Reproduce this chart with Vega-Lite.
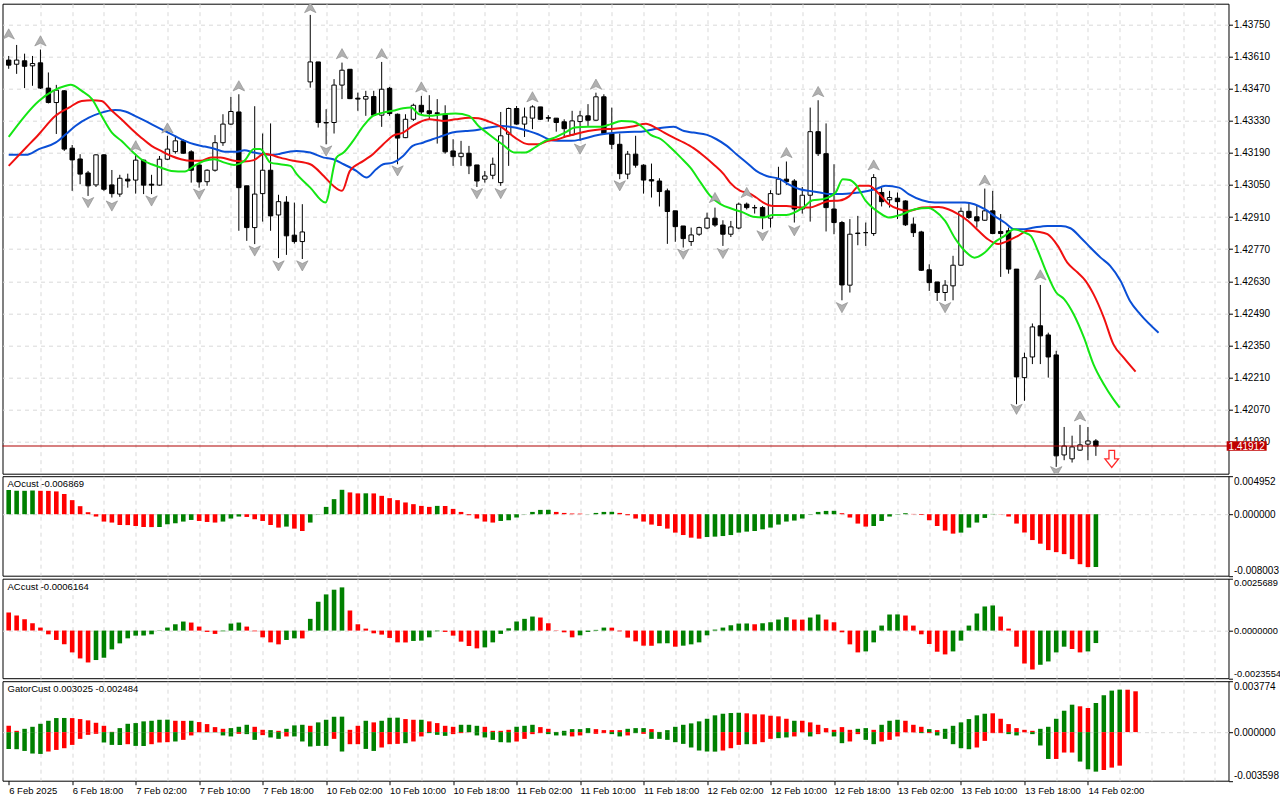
{
"$schema": "https://vega.github.io/schema/vega-lite/v6.json",
"background": "white",
"padding": {"left": 1.5, "top": 2.7, "right": 0, "bottom": 0},
"spacing": 2.5,
"bounds": "flush",
"config": {
 "view": {"stroke": "#000000", "strokeWidth": 1},
 "font": "Liberation Sans",
 "axis": {"labelFont": "Liberation Sans", "labelFontSize": 10, "labelColor": "#000000", "tickColor": "#000000", "title": null, "domain": false, "gridDash": [4, 4], "gridColor": "#d9d9d9", "gridWidth": 1, "labelOverlap": false}
},
"resolve": {"scale": {"x": "independent", "y": "independent", "color": "independent", "fill": "independent", "shape": "independent"}},
"datasets": {
"candles": [
{"i":0,"o":1.43594,"h":1.43612,"l":1.43556,"c":1.43572},
{"i":1,"o":1.43576,"h":1.43660,"l":1.43534,"c":1.43594},
{"i":2,"o":1.43591,"h":1.43622,"l":1.43472,"c":1.43567},
{"i":3,"o":1.43569,"h":1.43612,"l":1.43482,"c":1.43579},
{"i":4,"o":1.43582,"h":1.43640,"l":1.43468,"c":1.43472},
{"i":5,"o":1.43472,"h":1.43540,"l":1.43405,"c":1.43409},
{"i":6,"o":1.43409,"h":1.43486,"l":1.43272,"c":1.43463},
{"i":7,"o":1.43460,"h":1.43463,"l":1.43198,"c":1.43206},
{"i":8,"o":1.43210,"h":1.43224,"l":1.43024,"c":1.43159},
{"i":9,"o":1.43163,"h":1.43184,"l":1.43053,"c":1.43097},
{"i":10,"o":1.43102,"h":1.43111,"l":1.43002,"c":1.43046},
{"i":11,"o":1.43050,"h":1.43184,"l":1.43041,"c":1.43181},
{"i":12,"o":1.43181,"h":1.43184,"l":1.43024,"c":1.43031},
{"i":13,"o":1.43050,"h":1.43115,"l":1.42995,"c":1.43012},
{"i":14,"o":1.43010,"h":1.43094,"l":1.42998,"c":1.43079},
{"i":15,"o":1.43075,"h":1.43099,"l":1.43038,"c":1.43067},
{"i":16,"o":1.43071,"h":1.43186,"l":1.43012,"c":1.43158},
{"i":17,"o":1.43158,"h":1.43160,"l":1.43010,"c":1.43049},
{"i":18,"o":1.43053,"h":1.43094,"l":1.43010,"c":1.43049},
{"i":19,"o":1.43049,"h":1.43176,"l":1.43046,"c":1.43162},
{"i":20,"o":1.43162,"h":1.43264,"l":1.43158,"c":1.43206},
{"i":21,"o":1.43195,"h":1.43264,"l":1.43186,"c":1.43242},
{"i":22,"o":1.43242,"h":1.43249,"l":1.43186,"c":1.43188},
{"i":23,"o":1.43194,"h":1.43201,"l":1.43060,"c":1.43114},
{"i":24,"o":1.43137,"h":1.43140,"l":1.43038,"c":1.43063},
{"i":25,"o":1.43064,"h":1.43118,"l":1.43046,"c":1.43114},
{"i":26,"o":1.43114,"h":1.43267,"l":1.43108,"c":1.43234},
{"i":27,"o":1.43234,"h":1.43358,"l":1.43220,"c":1.43315},
{"i":28,"o":1.43315,"h":1.43434,"l":1.43312,"c":1.43370},
{"i":29,"o":1.43368,"h":1.43445,"l":1.42850,"c":1.43038},
{"i":30,"o":1.43046,"h":1.43046,"l":1.42806,"c":1.42864},
{"i":31,"o":1.42864,"h":1.43393,"l":1.42792,"c":1.43010},
{"i":32,"o":1.43012,"h":1.43274,"l":1.42890,"c":1.43114},
{"i":33,"o":1.43114,"h":1.43318,"l":1.42850,"c":1.42915},
{"i":34,"o":1.42919,"h":1.43007,"l":1.42731,"c":1.42977},
{"i":35,"o":1.42975,"h":1.43001,"l":1.42745,"c":1.42828},
{"i":36,"o":1.42831,"h":1.42973,"l":1.42794,"c":1.42803},
{"i":37,"o":1.42803,"h":1.42966,"l":1.42727,"c":1.42845},
{"i":38,"o":1.43499,"h":1.43791,"l":1.43474,"c":1.43586},
{"i":39,"o":1.43586,"h":1.43586,"l":1.43300,"c":1.43322},
{"i":40,"o":1.43322,"h":1.43380,"l":1.43227,"c":1.43320},
{"i":41,"o":1.43322,"h":1.43511,"l":1.43274,"c":1.43485},
{"i":42,"o":1.43485,"h":1.43583,"l":1.43424,"c":1.43550},
{"i":43,"o":1.43554,"h":1.43554,"l":1.43424,"c":1.43426},
{"i":44,"o":1.43428,"h":1.43452,"l":1.43373,"c":1.43424},
{"i":45,"o":1.43424,"h":1.43460,"l":1.43351,"c":1.43435},
{"i":46,"o":1.43435,"h":1.43460,"l":1.43351,"c":1.43354},
{"i":47,"o":1.43354,"h":1.43586,"l":1.43303,"c":1.43467},
{"i":48,"o":1.43471,"h":1.43477,"l":1.43351,"c":1.43361},
{"i":49,"o":1.43358,"h":1.43361,"l":1.43140,"c":1.43254},
{"i":50,"o":1.43256,"h":1.43358,"l":1.43254,"c":1.43336},
{"i":51,"o":1.43336,"h":1.43404,"l":1.43329,"c":1.43397},
{"i":52,"o":1.43397,"h":1.43438,"l":1.43358,"c":1.43368},
{"i":53,"o":1.43373,"h":1.43441,"l":1.43336,"c":1.43361},
{"i":54,"o":1.43364,"h":1.43424,"l":1.43230,"c":1.43361},
{"i":55,"o":1.43358,"h":1.43397,"l":1.43186,"c":1.43194},
{"i":56,"o":1.43198,"h":1.43249,"l":1.43133,"c":1.43173},
{"i":57,"o":1.43173,"h":1.43242,"l":1.43133,"c":1.43188},
{"i":58,"o":1.43188,"h":1.43220,"l":1.43097,"c":1.43133},
{"i":59,"o":1.43137,"h":1.43137,"l":1.43041,"c":1.43067},
{"i":60,"o":1.43075,"h":1.43111,"l":1.43060,"c":1.43089},
{"i":61,"o":1.43092,"h":1.43169,"l":1.43075,"c":1.43140},
{"i":62,"o":1.43060,"h":1.43368,"l":1.43046,"c":1.43264},
{"i":63,"o":1.43271,"h":1.43387,"l":1.43133,"c":1.43383},
{"i":64,"o":1.43383,"h":1.43394,"l":1.43312,"c":1.43315},
{"i":65,"o":1.43315,"h":1.43387,"l":1.43259,"c":1.43346},
{"i":66,"o":1.43341,"h":1.43397,"l":1.43293,"c":1.43390},
{"i":67,"o":1.43390,"h":1.43390,"l":1.43333,"c":1.43336},
{"i":68,"o":1.43343,"h":1.43354,"l":1.43326,"c":1.43341},
{"i":69,"o":1.43341,"h":1.43341,"l":1.43282,"c":1.43322},
{"i":70,"o":1.43325,"h":1.43336,"l":1.43256,"c":1.43295},
{"i":71,"o":1.43268,"h":1.43373,"l":1.43264,"c":1.43329},
{"i":72,"o":1.43326,"h":1.43373,"l":1.43242,"c":1.43351},
{"i":73,"o":1.43351,"h":1.43402,"l":1.43307,"c":1.43332},
{"i":74,"o":1.43332,"h":1.43452,"l":1.43329,"c":1.43434},
{"i":75,"o":1.43434,"h":1.43445,"l":1.43268,"c":1.43274},
{"i":76,"o":1.43274,"h":1.43387,"l":1.43206,"c":1.43227},
{"i":77,"o":1.43227,"h":1.43274,"l":1.43075,"c":1.43099},
{"i":78,"o":1.43097,"h":1.43198,"l":1.43075,"c":1.43184},
{"i":79,"o":1.43184,"h":1.43264,"l":1.43125,"c":1.43136},
{"i":80,"o":1.43136,"h":1.43140,"l":1.43012,"c":1.43071},
{"i":81,"o":1.43073,"h":1.43143,"l":1.42995,"c":1.43067},
{"i":82,"o":1.43067,"h":1.43079,"l":1.42956,"c":1.43021},
{"i":83,"o":1.43024,"h":1.43034,"l":1.42793,"c":1.42934},
{"i":84,"o":1.42937,"h":1.42937,"l":1.42802,"c":1.42868},
{"i":85,"o":1.42871,"h":1.42871,"l":1.42777,"c":1.42816},
{"i":86,"o":1.42803,"h":1.42864,"l":1.42784,"c":1.42832},
{"i":87,"o":1.42835,"h":1.42868,"l":1.42828,"c":1.42864},
{"i":88,"o":1.42862,"h":1.42929,"l":1.42857,"c":1.42905},
{"i":89,"o":1.42905,"h":1.42951,"l":1.42867,"c":1.42875},
{"i":90,"o":1.42875,"h":1.42896,"l":1.42784,"c":1.42835},
{"i":91,"o":1.42835,"h":1.42893,"l":1.42823,"c":1.42867},
{"i":92,"o":1.42862,"h":1.42973,"l":1.42857,"c":1.42966},
{"i":93,"o":1.42966,"h":1.42973,"l":1.42943,"c":1.42951},
{"i":94,"o":1.42951,"h":1.42963,"l":1.42925,"c":1.42950},
{"i":95,"o":1.42951,"h":1.42958,"l":1.42857,"c":1.42911},
{"i":96,"o":1.42905,"h":1.43027,"l":1.42864,"c":1.43012},
{"i":97,"o":1.43010,"h":1.43129,"l":1.43007,"c":1.43075},
{"i":98,"o":1.43075,"h":1.43152,"l":1.43050,"c":1.43064},
{"i":99,"o":1.43067,"h":1.43075,"l":1.42886,"c":1.42945},
{"i":100,"o":1.42945,"h":1.43041,"l":1.42925,"c":1.43005},
{"i":101,"o":1.43005,"h":1.43387,"l":1.42890,"c":1.43282},
{"i":102,"o":1.43282,"h":1.43419,"l":1.43176,"c":1.43186},
{"i":103,"o":1.43186,"h":1.43318,"l":1.42847,"c":1.42951},
{"i":104,"o":1.42945,"h":1.43140,"l":1.42835,"c":1.42886},
{"i":105,"o":1.42886,"h":1.42893,"l":1.42547,"c":1.42614},
{"i":106,"o":1.42613,"h":1.42901,"l":1.42581,"c":1.42835},
{"i":107,"o":1.42840,"h":1.42915,"l":1.42787,"c":1.42838},
{"i":108,"o":1.42842,"h":1.42886,"l":1.42784,"c":1.42842},
{"i":109,"o":1.42838,"h":1.43097,"l":1.42828,"c":1.43082},
{"i":110,"o":1.43017,"h":1.43038,"l":1.42956,"c":1.42977},
{"i":111,"o":1.42985,"h":1.43024,"l":1.42951,"c":1.42995},
{"i":112,"o":1.42992,"h":1.43017,"l":1.42901,"c":1.42977},
{"i":113,"o":1.42980,"h":1.42983,"l":1.42871,"c":1.42876},
{"i":114,"o":1.42879,"h":1.42908,"l":1.42823,"c":1.42842},
{"i":115,"o":1.42845,"h":1.42850,"l":1.42675,"c":1.42678},
{"i":116,"o":1.42680,"h":1.42704,"l":1.42588,"c":1.42624},
{"i":117,"o":1.42627,"h":1.42627,"l":1.42544,"c":1.42581},
{"i":118,"o":1.42581,"h":1.42635,"l":1.42544,"c":1.42613},
{"i":119,"o":1.42610,"h":1.42741,"l":1.42547,"c":1.42700},
{"i":120,"o":1.42700,"h":1.42951,"l":1.42697,"c":1.42935},
{"i":121,"o":1.42935,"h":1.42973,"l":1.42901,"c":1.42908},
{"i":122,"o":1.42911,"h":1.42959,"l":1.42864,"c":1.42893},
{"i":123,"o":1.42896,"h":1.43034,"l":1.42893,"c":1.42937},
{"i":124,"o":1.42937,"h":1.43024,"l":1.42835,"c":1.42838},
{"i":125,"o":1.42847,"h":1.42923,"l":1.42649,"c":1.42838},
{"i":126,"o":1.42850,"h":1.42864,"l":1.42663,"c":1.42683},
{"i":127,"o":1.42683,"h":1.42683,"l":1.42094,"c":1.42213},
{"i":128,"o":1.42210,"h":1.42319,"l":1.42109,"c":1.42297},
{"i":129,"o":1.42300,"h":1.42446,"l":1.42269,"c":1.42431},
{"i":130,"o":1.42436,"h":1.42614,"l":1.42269,"c":1.42392},
{"i":131,"o":1.42396,"h":1.42406,"l":1.42210,"c":1.42300},
{"i":132,"o":1.42309,"h":1.42327,"l":1.41821,"c":1.41869},
{"i":133,"o":1.41873,"h":1.41995,"l":1.41850,"c":1.41912},
{"i":134,"o":1.41856,"h":1.41957,"l":1.41840,"c":1.41908},
{"i":135,"o":1.41894,"h":1.42004,"l":1.41891,"c":1.41917},
{"i":136,"o":1.41920,"h":1.41995,"l":1.41850,"c":1.41934},
{"i":137,"o":1.41934,"h":1.41942,"l":1.41869,"c":1.41912}
],
"lines": [
{"s":"jaw","i":0,"v":1.43181},{"s":"jaw","i":2.2,"v":1.43181},{"s":"jaw","i":3.8,"v":1.43206},{"s":"jaw","i":5.9,"v":1.43234},{"s":"jaw","i":7.2,"v":1.43271},{"s":"jaw","i":8.4,"v":1.43307},{"s":"jaw","i":10.1,"v":1.43343},{"s":"jaw","i":11.7,"v":1.43365},{"s":"jaw","i":13.4,"v":1.43376},{"s":"jaw","i":14.7,"v":1.43370},{"s":"jaw","i":15.9,"v":1.43351},{"s":"jaw","i":17.2,"v":1.43329},{"s":"jaw","i":18.4,"v":1.43307},{"s":"jaw","i":19.7,"v":1.43285},{"s":"jaw","i":20.9,"v":1.43264},{"s":"jaw","i":22.2,"v":1.43242},{"s":"jaw","i":23.4,"v":1.43227},{"s":"jaw","i":24.7,"v":1.43217},{"s":"jaw","i":25.9,"v":1.43208},{"s":"jaw","i":27.2,"v":1.43195},{"s":"jaw","i":28.8,"v":1.43195},{"s":"jaw","i":29.7,"v":1.43201},{"s":"jaw","i":30.9,"v":1.43191},{"s":"jaw","i":32.2,"v":1.43184},{"s":"jaw","i":33.4,"v":1.43181},{"s":"jaw","i":34.2,"v":1.43186},{"s":"jaw","i":35.5,"v":1.43196},{"s":"jaw","i":36.3,"v":1.43198},{"s":"jaw","i":38,"v":1.43191},{"s":"jaw","i":39.7,"v":1.43169},{"s":"jaw","i":40.9,"v":1.43162},{"s":"jaw","i":42.2,"v":1.43140},{"s":"jaw","i":43.8,"v":1.43111},{"s":"jaw","i":45.1,"v":1.43082},{"s":"jaw","i":46.3,"v":1.43118},{"s":"jaw","i":47.2,"v":1.43140},{"s":"jaw","i":48.4,"v":1.43147},{"s":"jaw","i":49.7,"v":1.43176},{"s":"jaw","i":50.9,"v":1.43220},{"s":"jaw","i":52.2,"v":1.43234},{"s":"jaw","i":53.4,"v":1.43249},{"s":"jaw","i":54.7,"v":1.43264},{"s":"jaw","i":55.9,"v":1.43278},{"s":"jaw","i":57.6,"v":1.43285},{"s":"jaw","i":58.8,"v":1.43288},{"s":"jaw","i":60.5,"v":1.43300},{"s":"jaw","i":62.2,"v":1.43307},{"s":"jaw","i":63.8,"v":1.43300},{"s":"jaw","i":65.5,"v":1.43285},{"s":"jaw","i":66.7,"v":1.43271},{"s":"jaw","i":68,"v":1.43249},{"s":"jaw","i":69.2,"v":1.43242},{"s":"jaw","i":70.9,"v":1.43242},{"s":"jaw","i":72.2,"v":1.43249},{"s":"jaw","i":73.8,"v":1.43264},{"s":"jaw","i":75.5,"v":1.43274},{"s":"jaw","i":78,"v":1.43281},{"s":"jaw","i":79.7,"v":1.43282},{"s":"jaw","i":81.3,"v":1.43293},{"s":"jaw","i":82.6,"v":1.43300},{"s":"jaw","i":83.8,"v":1.43303},{"s":"jaw","i":85.1,"v":1.43285},{"s":"jaw","i":86.3,"v":1.43278},{"s":"jaw","i":88,"v":1.43268},{"s":"jaw","i":89.2,"v":1.43249},{"s":"jaw","i":90.5,"v":1.43220},{"s":"jaw","i":91.7,"v":1.43184},{"s":"jaw","i":93,"v":1.43147},{"s":"jaw","i":94.2,"v":1.43111},{"s":"jaw","i":95.5,"v":1.43089},{"s":"jaw","i":97.2,"v":1.43075},{"s":"jaw","i":98.4,"v":1.43050},{"s":"jaw","i":99.7,"v":1.43031},{"s":"jaw","i":100.9,"v":1.43024},{"s":"jaw","i":102.2,"v":1.43017},{"s":"jaw","i":103.4,"v":1.43010},{"s":"jaw","i":104.7,"v":1.43010},{"s":"jaw","i":105.9,"v":1.43013},{"s":"jaw","i":107.2,"v":1.43017},{"s":"jaw","i":109.2,"v":1.43031},{"s":"jaw","i":110.5,"v":1.43046},{"s":"jaw","i":112.2,"v":1.43038},{"s":"jaw","i":113.4,"v":1.43010},{"s":"jaw","i":115.1,"v":1.42983},{"s":"jaw","i":116.7,"v":1.42973},{"s":"jaw","i":118.8,"v":1.42973},{"s":"jaw","i":120.5,"v":1.42973},{"s":"jaw","i":121.7,"v":1.42966},{"s":"jaw","i":123,"v":1.42944},{"s":"jaw","i":124.2,"v":1.42915},{"s":"jaw","i":125.5,"v":1.42886},{"s":"jaw","i":126.7,"v":1.42857},{"s":"jaw","i":128,"v":1.42857},{"s":"jaw","i":129.2,"v":1.42864},{"s":"jaw","i":130.9,"v":1.42871},{"s":"jaw","i":132.6,"v":1.42871},{"s":"jaw","i":133.8,"v":1.42861},{"s":"jaw","i":135.1,"v":1.42820},{"s":"jaw","i":136.3,"v":1.42777},{"s":"jaw","i":137.6,"v":1.42733},{"s":"jaw","i":138.8,"v":1.42697},{"s":"jaw","i":140.1,"v":1.42632},{"s":"jaw","i":141.3,"v":1.42544},{"s":"jaw","i":142.6,"v":1.42486},{"s":"jaw","i":144.9,"v":1.42406},
{"s":"teeth","i":0,"v":1.43133},{"s":"teeth","i":2.2,"v":1.43213},{"s":"teeth","i":3.8,"v":1.43271},{"s":"teeth","i":5.9,"v":1.43351},{"s":"teeth","i":7.6,"v":1.43387},{"s":"teeth","i":9.2,"v":1.43416},{"s":"teeth","i":10.5,"v":1.43419},{"s":"teeth","i":11.7,"v":1.43416},{"s":"teeth","i":13,"v":1.43373},{"s":"teeth","i":14.2,"v":1.43336},{"s":"teeth","i":15.5,"v":1.43293},{"s":"teeth","i":16.7,"v":1.43256},{"s":"teeth","i":18,"v":1.43220},{"s":"teeth","i":19.2,"v":1.43198},{"s":"teeth","i":20.5,"v":1.43176},{"s":"teeth","i":21.7,"v":1.43162},{"s":"teeth","i":23,"v":1.43155},{"s":"teeth","i":24.2,"v":1.43155},{"s":"teeth","i":25.5,"v":1.43169},{"s":"teeth","i":26.7,"v":1.43169},{"s":"teeth","i":28.4,"v":1.43155},{"s":"teeth","i":29.7,"v":1.43152},{"s":"teeth","i":30.9,"v":1.43158},{"s":"teeth","i":32.2,"v":1.43186},{"s":"teeth","i":33,"v":1.43181},{"s":"teeth","i":34.2,"v":1.43169},{"s":"teeth","i":35.9,"v":1.43155},{"s":"teeth","i":38,"v":1.43140},{"s":"teeth","i":39.7,"v":1.43089},{"s":"teeth","i":40.9,"v":1.43046},{"s":"teeth","i":42,"v":1.43024},{"s":"teeth","i":43,"v":1.43111},{"s":"teeth","i":44.7,"v":1.43155},{"s":"teeth","i":45.9,"v":1.43184},{"s":"teeth","i":47.2,"v":1.43227},{"s":"teeth","i":48.4,"v":1.43264},{"s":"teeth","i":49.7,"v":1.43278},{"s":"teeth","i":50.9,"v":1.43307},{"s":"teeth","i":51.7,"v":1.43322},{"s":"teeth","i":53,"v":1.43336},{"s":"teeth","i":54.7,"v":1.43329},{"s":"teeth","i":56.3,"v":1.43336},{"s":"teeth","i":58,"v":1.43343},{"s":"teeth","i":59.2,"v":1.43341},{"s":"teeth","i":60.5,"v":1.43326},{"s":"teeth","i":62.2,"v":1.43300},{"s":"teeth","i":63.8,"v":1.43256},{"s":"teeth","i":65.5,"v":1.43227},{"s":"teeth","i":66.7,"v":1.43227},{"s":"teeth","i":68,"v":1.43242},{"s":"teeth","i":69.2,"v":1.43249},{"s":"teeth","i":70.3,"v":1.43262},{"s":"teeth","i":71.3,"v":1.43271},{"s":"teeth","i":73,"v":1.43285},{"s":"teeth","i":74.7,"v":1.43293},{"s":"teeth","i":76.3,"v":1.43295},{"s":"teeth","i":78.8,"v":1.43306},{"s":"teeth","i":80.3,"v":1.43317},{"s":"teeth","i":81.5,"v":1.43300},{"s":"teeth","i":82.6,"v":1.43278},{"s":"teeth","i":83.8,"v":1.43256},{"s":"teeth","i":85.1,"v":1.43234},{"s":"teeth","i":86.3,"v":1.43210},{"s":"teeth","i":87.6,"v":1.43176},{"s":"teeth","i":88.8,"v":1.43140},{"s":"teeth","i":90.1,"v":1.43097},{"s":"teeth","i":90.9,"v":1.43060},{"s":"teeth","i":92.2,"v":1.43024},{"s":"teeth","i":93.4,"v":1.43012},{"s":"teeth","i":94.2,"v":1.42995},{"s":"teeth","i":95.1,"v":1.42973},{"s":"teeth","i":96.3,"v":1.42958},{"s":"teeth","i":98,"v":1.42958},{"s":"teeth","i":99.7,"v":1.42951},{"s":"teeth","i":100.9,"v":1.42951},{"s":"teeth","i":102.2,"v":1.42966},{"s":"teeth","i":103.4,"v":1.42980},{"s":"teeth","i":104.7,"v":1.42982},{"s":"teeth","i":105.9,"v":1.43000},{"s":"teeth","i":107.2,"v":1.43046},{"s":"teeth","i":108.4,"v":1.43046},{"s":"teeth","i":109.7,"v":1.43010},{"s":"teeth","i":110.9,"v":1.42966},{"s":"teeth","i":112.2,"v":1.42944},{"s":"teeth","i":113.4,"v":1.42937},{"s":"teeth","i":115.1,"v":1.42951},{"s":"teeth","i":117.2,"v":1.42954},{"s":"teeth","i":118.4,"v":1.42944},{"s":"teeth","i":119.7,"v":1.42922},{"s":"teeth","i":120.9,"v":1.42893},{"s":"teeth","i":122.2,"v":1.42850},{"s":"teeth","i":123.4,"v":1.42813},{"s":"teeth","i":124.7,"v":1.42792},{"s":"teeth","i":125.9,"v":1.42806},{"s":"teeth","i":127.2,"v":1.42828},{"s":"teeth","i":128.4,"v":1.42850},{"s":"teeth","i":129.7,"v":1.42846},{"s":"teeth","i":130.9,"v":1.42835},{"s":"teeth","i":132.2,"v":1.42784},{"s":"teeth","i":133.4,"v":1.42711},{"s":"teeth","i":134.7,"v":1.42668},{"s":"teeth","i":135.7,"v":1.42632},{"s":"teeth","i":136.7,"v":1.42574},{"s":"teeth","i":138,"v":1.42472},{"s":"teeth","i":139.2,"v":1.42356},{"s":"teeth","i":140.5,"v":1.42297},{"s":"teeth","i":142,"v":1.42236},
{"s":"lips","i":0,"v":1.43259},{"s":"lips","i":3.8,"v":1.43416},{"s":"lips","i":7.2,"v":1.43482},{"s":"lips","i":7.8,"v":1.43486},{"s":"lips","i":9.2,"v":1.43460},{"s":"lips","i":10.5,"v":1.43424},{"s":"lips","i":11.7,"v":1.43351},{"s":"lips","i":13,"v":1.43278},{"s":"lips","i":14.2,"v":1.43242},{"s":"lips","i":15.5,"v":1.43198},{"s":"lips","i":16.7,"v":1.43162},{"s":"lips","i":18,"v":1.43140},{"s":"lips","i":19.2,"v":1.43125},{"s":"lips","i":20.5,"v":1.43111},{"s":"lips","i":22.2,"v":1.43108},{"s":"lips","i":23.4,"v":1.43133},{"s":"lips","i":24.7,"v":1.43155},{"s":"lips","i":25.9,"v":1.43162},{"s":"lips","i":27.2,"v":1.43147},{"s":"lips","i":28.4,"v":1.43137},{"s":"lips","i":29.7,"v":1.43155},{"s":"lips","i":30.9,"v":1.43206},{"s":"lips","i":31.7,"v":1.43206},{"s":"lips","i":33,"v":1.43147},{"s":"lips","i":34.2,"v":1.43140},{"s":"lips","i":35.5,"v":1.43133},{"s":"lips","i":36.3,"v":1.43097},{"s":"lips","i":38,"v":1.43038},{"s":"lips","i":39.9,"v":1.42973},{"s":"lips","i":41.3,"v":1.43169},{"s":"lips","i":42.2,"v":1.43191},{"s":"lips","i":43.4,"v":1.43242},{"s":"lips","i":44.7,"v":1.43307},{"s":"lips","i":45.9,"v":1.43351},{"s":"lips","i":47.2,"v":1.43365},{"s":"lips","i":48.4,"v":1.43373},{"s":"lips","i":49.7,"v":1.43384},{"s":"lips","i":50.7,"v":1.43387},{"s":"lips","i":51.7,"v":1.43358},{"s":"lips","i":53,"v":1.43351},{"s":"lips","i":54.7,"v":1.43358},{"s":"lips","i":56.3,"v":1.43361},{"s":"lips","i":58,"v":1.43351},{"s":"lips","i":59.2,"v":1.43307},{"s":"lips","i":60.5,"v":1.43271},{"s":"lips","i":62.2,"v":1.43227},{"s":"lips","i":63.8,"v":1.43191},{"s":"lips","i":65.1,"v":1.43191},{"s":"lips","i":66.3,"v":1.43213},{"s":"lips","i":67.6,"v":1.43242},{"s":"lips","i":68.8,"v":1.43256},{"s":"lips","i":70.1,"v":1.43278},{"s":"lips","i":71.3,"v":1.43300},{"s":"lips","i":73,"v":1.43304},{"s":"lips","i":74.7,"v":1.43304},{"s":"lips","i":75.9,"v":1.43315},{"s":"lips","i":77.2,"v":1.43329},{"s":"lips","i":78.6,"v":1.43326},{"s":"lips","i":79.7,"v":1.43307},{"s":"lips","i":80.9,"v":1.43268},{"s":"lips","i":82.2,"v":1.43249},{"s":"lips","i":83.4,"v":1.43213},{"s":"lips","i":84.7,"v":1.43169},{"s":"lips","i":85.9,"v":1.43125},{"s":"lips","i":87.2,"v":1.43060},{"s":"lips","i":88.4,"v":1.43002},{"s":"lips","i":89.7,"v":1.42966},{"s":"lips","i":91.3,"v":1.42944},{"s":"lips","i":92.6,"v":1.42929},{"s":"lips","i":93.8,"v":1.42911},{"s":"lips","i":95.1,"v":1.42908},{"s":"lips","i":96.3,"v":1.42919},{"s":"lips","i":98,"v":1.42919},{"s":"lips","i":100.1,"v":1.42951},{"s":"lips","i":101.3,"v":1.42983},{"s":"lips","i":102.6,"v":1.42988},{"s":"lips","i":104.2,"v":1.43017},{"s":"lips","i":105.1,"v":1.43075},{"s":"lips","i":106,"v":1.43071},{"s":"lips","i":106.7,"v":1.43053},{"s":"lips","i":108,"v":1.42980},{"s":"lips","i":109.7,"v":1.42929},{"s":"lips","i":110.9,"v":1.42908},{"s":"lips","i":112.6,"v":1.42922},{"s":"lips","i":114.2,"v":1.42944},{"s":"lips","i":115.9,"v":1.42949},{"s":"lips","i":116.7,"v":1.42937},{"s":"lips","i":118,"v":1.42893},{"s":"lips","i":119.2,"v":1.42820},{"s":"lips","i":120.5,"v":1.42762},{"s":"lips","i":121.7,"v":1.42733},{"s":"lips","i":123,"v":1.42755},{"s":"lips","i":124.2,"v":1.42799},{"s":"lips","i":125.5,"v":1.42828},{"s":"lips","i":126.7,"v":1.42857},{"s":"lips","i":128,"v":1.42842},{"s":"lips","i":128.8,"v":1.42828},{"s":"lips","i":129.7,"v":1.42762},{"s":"lips","i":130.7,"v":1.42675},{"s":"lips","i":132,"v":1.42581},{"s":"lips","i":133,"v":1.42552},{"s":"lips","i":134.2,"v":1.42486},{"s":"lips","i":135.5,"v":1.42384},{"s":"lips","i":136.7,"v":1.42268},{"s":"lips","i":138,"v":1.42181},{"s":"lips","i":139.2,"v":1.42116},{"s":"lips","i":140,"v":1.42079}
],
"fractals": [
{"i":0,"p":1.43708,"k":"up"},{"i":4,"p":1.43678,"k":"up"},{"i":16,"p":1.43220,"k":"up"},{"i":20,"p":1.43298,"k":"up"},{"i":29,"p":1.43482,"k":"up"},{"i":38,"p":1.43823,"k":"up"},{"i":42,"p":1.43622,"k":"up"},{"i":47,"p":1.43622,"k":"up"},{"i":52,"p":1.43477,"k":"up"},{"i":66,"p":1.43434,"k":"up"},{"i":74,"p":1.43489,"k":"up"},{"i":89,"p":1.42995,"k":"up"},{"i":93,"p":1.43017,"k":"up"},{"i":98,"p":1.43191,"k":"up"},{"i":102,"p":1.43457,"k":"up"},{"i":109,"p":1.43137,"k":"up"},{"i":123,"p":1.43071,"k":"up"},{"i":130,"p":1.42658,"k":"up"},{"i":135,"p":1.42043,"k":"up"},
{"i":10,"p":1.42973,"k":"down"},{"i":13,"p":1.42958,"k":"down"},{"i":18,"p":1.42980,"k":"down"},{"i":24,"p":1.43010,"k":"down"},{"i":31,"p":1.42762,"k":"down"},{"i":34,"p":1.42697,"k":"down"},{"i":37,"p":1.42697,"k":"down"},{"i":40,"p":1.43198,"k":"down"},{"i":49,"p":1.43111,"k":"down"},{"i":59,"p":1.43012,"k":"down"},{"i":62,"p":1.43012,"k":"down"},{"i":72,"p":1.43206,"k":"down"},{"i":77,"p":1.43046,"k":"down"},{"i":85,"p":1.42748,"k":"down"},{"i":90,"p":1.42751,"k":"down"},{"i":95,"p":1.42828,"k":"down"},{"i":99,"p":1.42850,"k":"down"},{"i":105,"p":1.42515,"k":"down"},{"i":118,"p":1.42515,"k":"down"},{"i":127,"p":1.42072,"k":"down"},{"i":132,"p":1.41800,"k":"down"}
],
"ao": [
{"i":0,"v":0.003142,"d":"u"},{"i":1,"v":0.00305,"d":"u"},{"i":2,"v":0.00305,"d":"u"},{"i":3,"v":0.003076,"d":"u"},{"i":4,"v":0.00305,"d":"d"},{"i":5,"v":0.00304,"d":"d"},{"i":6,"v":0.002971,"d":"d"},{"i":7,"v":0.002618,"d":"d"},{"i":8,"v":0.001833,"d":"d"},{"i":9,"v":0.001047,"d":"d"},{"i":10,"v":0.000262,"d":"d"},{"i":11,"v":-0.000301,"d":"d"},{"i":12,"v":-0.000956,"d":"d"},{"i":13,"v":-0.001086,"d":"d"},{"i":14,"v":-0.001401,"d":"d"},{"i":15,"v":-0.001414,"d":"d"},{"i":16,"v":-0.001532,"d":"d"},{"i":17,"v":-0.001662,"d":"d"},{"i":18,"v":-0.001676,"d":"d"},{"i":19,"v":-0.001662,"d":"u"},{"i":20,"v":-0.001309,"d":"u"},{"i":21,"v":-0.001178,"d":"u"},{"i":22,"v":-0.000956,"d":"u"},{"i":23,"v":-0.000746,"d":"u"},{"i":24,"v":-0.000877,"d":"d"},{"i":25,"v":-0.001008,"d":"d"},{"i":26,"v":-0.001086,"d":"d"},{"i":27,"v":-0.000956,"d":"u"},{"i":28,"v":-0.000563,"d":"u"},{"i":29,"v":-0.000301,"d":"u"},{"i":30,"v":-0.000353,"d":"d"},{"i":31,"v":-0.000655,"d":"d"},{"i":32,"v":-0.000877,"d":"d"},{"i":33,"v":-0.001401,"d":"d"},{"i":34,"v":-0.001741,"d":"d"},{"i":35,"v":-0.00161,"d":"u"},{"i":36,"v":-0.001872,"d":"d"},{"i":37,"v":-0.002186,"d":"d"},{"i":38,"v":-0.001086,"d":"u"},{"i":39,"v":-0.000039,"d":"u"},{"i":40,"v":0.000956,"d":"u"},{"i":41,"v":0.001964,"d":"u"},{"i":42,"v":0.003181,"d":"u"},{"i":43,"v":0.002841,"d":"d"},{"i":44,"v":0.00271,"d":"d"},{"i":45,"v":0.002723,"d":"u"},{"i":46,"v":0.00271,"d":"d"},{"i":47,"v":0.002395,"d":"d"},{"i":48,"v":0.002094,"d":"d"},{"i":49,"v":0.001833,"d":"d"},{"i":50,"v":0.001532,"d":"d"},{"i":51,"v":0.001309,"d":"d"},{"i":52,"v":0.001086,"d":"d"},{"i":53,"v":0.000956,"d":"d"},{"i":54,"v":0.001086,"d":"u"},{"i":55,"v":0.001073,"d":"d"},{"i":56,"v":0.000694,"d":"d"},{"i":57,"v":0.000301,"d":"d"},{"i":58,"v":-0.000131,"d":"d"},{"i":59,"v":-0.000563,"d":"d"},{"i":60,"v":-0.000956,"d":"d"},{"i":61,"v":-0.001086,"d":"d"},{"i":62,"v":-0.000877,"d":"u"},{"i":63,"v":-0.000785,"d":"u"},{"i":64,"v":-0.000432,"d":"u"},{"i":65,"v":-0.000026,"d":"u"},{"i":66,"v":0.000301,"d":"u"},{"i":67,"v":0.000563,"d":"u"},{"i":68,"v":0.000576,"d":"u"},{"i":69,"v":0.000301,"d":"d"},{"i":70,"v":0.00017,"d":"d"},{"i":71,"v":0.000092,"d":"d"},{"i":72,"v":0.000079,"d":"d"},{"i":73,"v":0.000013,"d":"u"},{"i":74,"v":0.00017,"d":"u"},{"i":75,"v":0.000301,"d":"u"},{"i":76,"v":0.000314,"d":"u"},{"i":77,"v":0.00017,"d":"d"},{"i":78,"v":-0.000131,"d":"d"},{"i":79,"v":-0.000563,"d":"d"},{"i":80,"v":-0.000956,"d":"d"},{"i":81,"v":-0.001348,"d":"d"},{"i":82,"v":-0.001532,"d":"d"},{"i":83,"v":-0.001872,"d":"d"},{"i":84,"v":-0.002395,"d":"d"},{"i":85,"v":-0.00271,"d":"d"},{"i":86,"v":-0.00305,"d":"d"},{"i":87,"v":-0.003181,"d":"d"},{"i":88,"v":-0.002971,"d":"u"},{"i":89,"v":-0.002919,"d":"u"},{"i":90,"v":-0.002841,"d":"u"},{"i":91,"v":-0.00271,"d":"u"},{"i":92,"v":-0.002395,"d":"u"},{"i":93,"v":-0.002265,"d":"u"},{"i":94,"v":-0.002186,"d":"u"},{"i":95,"v":-0.001964,"d":"u"},{"i":96,"v":-0.001741,"d":"u"},{"i":97,"v":-0.001348,"d":"u"},{"i":98,"v":-0.000956,"d":"u"},{"i":99,"v":-0.000825,"d":"u"},{"i":100,"v":-0.000563,"d":"u"},{"i":101,"v":-0.000039,"d":"u"},{"i":102,"v":0.000301,"d":"u"},{"i":103,"v":0.000432,"d":"u"},{"i":104,"v":0.000445,"d":"u"},{"i":105,"v":0.000131,"d":"d"},{"i":106,"v":-0.000432,"d":"d"},{"i":107,"v":-0.001217,"d":"d"},{"i":108,"v":-0.00161,"d":"d"},{"i":109,"v":-0.001532,"d":"u"},{"i":110,"v":-0.000877,"d":"u"},{"i":111,"v":-0.000301,"d":"u"},{"i":112,"v":-0.000039,"d":"u"},{"i":113,"v":0.000131,"d":"u"},{"i":114,"v":0.000039,"d":"d"},{"i":115,"v":-0.000092,"d":"d"},{"i":116,"v":-0.000785,"d":"d"},{"i":117,"v":-0.001532,"d":"d"},{"i":118,"v":-0.002134,"d":"d"},{"i":119,"v":-0.002526,"d":"d"},{"i":120,"v":-0.002395,"d":"u"},{"i":121,"v":-0.001741,"d":"u"},{"i":122,"v":-0.001086,"d":"u"},{"i":123,"v":-0.000484,"d":"u"},{"i":124,"v":0.000039,"d":"u"},{"i":125,"v":0.000026,"d":"d"},{"i":126,"v":-0.000301,"d":"d"},{"i":127,"v":-0.001217,"d":"d"},{"i":128,"v":-0.002395,"d":"d"},{"i":129,"v":-0.003364,"d":"d"},{"i":130,"v":-0.003835,"d":"d"},{"i":131,"v":-0.004673,"d":"d"},{"i":132,"v":-0.004935,"d":"d"},{"i":133,"v":-0.005197,"d":"d"},{"i":134,"v":-0.005851,"d":"d"},{"i":135,"v":-0.006506,"d":"d"},{"i":136,"v":-0.006885,"d":"d"},{"i":137,"v":-0.006869,"d":"u"}
],
"ac": [
{"i":0,"v":0.000895,"d":"d"},{"i":1,"v":0.000746,"d":"d"},{"i":2,"v":0.000562,"d":"d"},{"i":3,"v":0.000363,"d":"d"},{"i":4,"v":0.000149,"d":"d"},{"i":5,"v":-0.000184,"d":"d"},{"i":6,"v":-0.000463,"d":"d"},{"i":7,"v":-0.000681,"d":"d"},{"i":8,"v":-0.001079,"d":"d"},{"i":9,"v":-0.001378,"d":"d"},{"i":10,"v":-0.001577,"d":"d"},{"i":11,"v":-0.001457,"d":"u"},{"i":12,"v":-0.001343,"d":"u"},{"i":13,"v":-0.00093,"d":"u"},{"i":14,"v":-0.000632,"d":"u"},{"i":15,"v":-0.000383,"d":"u"},{"i":16,"v":-0.000249,"d":"u"},{"i":17,"v":-0.000244,"d":"u"},{"i":18,"v":-0.000184,"d":"u"},{"i":19,"v":-0.000015,"d":"u"},{"i":20,"v":0.000149,"d":"u"},{"i":21,"v":0.000313,"d":"u"},{"i":22,"v":0.000448,"d":"u"},{"i":23,"v":0.000398,"d":"d"},{"i":24,"v":0.000199,"d":"d"},{"i":25,"v":-0.000065,"d":"d"},{"i":26,"v":-0.000164,"d":"d"},{"i":27,"v":-0.000035,"d":"u"},{"i":28,"v":0.000348,"d":"u"},{"i":29,"v":0.000398,"d":"u"},{"i":30,"v":0.000199,"d":"d"},{"i":31,"v":-0.000035,"d":"d"},{"i":32,"v":-0.000333,"d":"d"},{"i":33,"v":-0.000582,"d":"d"},{"i":34,"v":-0.000681,"d":"d"},{"i":35,"v":-0.000463,"d":"u"},{"i":36,"v":-0.000383,"d":"u"},{"i":37,"v":-0.000388,"d":"d"},{"i":38,"v":0.000582,"d":"u"},{"i":39,"v":0.001428,"d":"u"},{"i":40,"v":0.001791,"d":"u"},{"i":41,"v":0.002024,"d":"u"},{"i":42,"v":0.002139,"d":"u"},{"i":43,"v":0.000995,"d":"d"},{"i":44,"v":0.000313,"d":"d"},{"i":45,"v":0.000099,"d":"d"},{"i":46,"v":-0.000134,"d":"d"},{"i":47,"v":-0.000199,"d":"d"},{"i":48,"v":-0.000363,"d":"d"},{"i":49,"v":-0.000582,"d":"d"},{"i":50,"v":-0.000587,"d":"d"},{"i":51,"v":-0.000512,"d":"u"},{"i":52,"v":-0.000497,"d":"u"},{"i":53,"v":-0.000333,"d":"u"},{"i":54,"v":-0.000035,"d":"u"},{"i":55,"v":-0.000065,"d":"d"},{"i":56,"v":-0.000249,"d":"d"},{"i":57,"v":-0.000547,"d":"d"},{"i":58,"v":-0.000761,"d":"d"},{"i":59,"v":-0.00088,"d":"d"},{"i":60,"v":-0.000831,"d":"u"},{"i":61,"v":-0.000582,"d":"u"},{"i":62,"v":-0.000164,"d":"u"},{"i":63,"v":0.000114,"d":"u"},{"i":64,"v":0.000448,"d":"u"},{"i":65,"v":0.000582,"d":"u"},{"i":66,"v":0.000696,"d":"u"},{"i":67,"v":0.000647,"d":"d"},{"i":68,"v":0.000363,"d":"d"},{"i":69,"v":-0.000015,"d":"d"},{"i":70,"v":-0.000085,"d":"d"},{"i":71,"v":-0.000333,"d":"d"},{"i":72,"v":-0.000234,"d":"u"},{"i":73,"v":-0.000065,"d":"u"},{"i":74,"v":0.000035,"d":"u"},{"i":75,"v":0.000149,"d":"u"},{"i":76,"v":0.000145,"d":"d"},{"i":77,"v":-0.000035,"d":"d"},{"i":78,"v":-0.000348,"d":"d"},{"i":79,"v":-0.000532,"d":"d"},{"i":80,"v":-0.000746,"d":"d"},{"i":81,"v":-0.000751,"d":"d"},{"i":82,"v":-0.000632,"d":"u"},{"i":83,"v":-0.000627,"d":"u"},{"i":84,"v":-0.000796,"d":"d"},{"i":85,"v":-0.000746,"d":"u"},{"i":86,"v":-0.000681,"d":"u"},{"i":87,"v":-0.000582,"d":"u"},{"i":88,"v":-0.000234,"d":"u"},{"i":89,"v":0.00005,"d":"u"},{"i":90,"v":0.000149,"d":"u"},{"i":91,"v":0.000264,"d":"u"},{"i":92,"v":0.000348,"d":"u"},{"i":93,"v":0.000353,"d":"u"},{"i":94,"v":0.000313,"d":"d"},{"i":95,"v":0.000363,"d":"u"},{"i":96,"v":0.000413,"d":"u"},{"i":97,"v":0.000547,"d":"u"},{"i":98,"v":0.000662,"d":"u"},{"i":99,"v":0.000547,"d":"d"},{"i":100,"v":0.000542,"d":"d"},{"i":101,"v":0.000647,"d":"u"},{"i":102,"v":0.000796,"d":"u"},{"i":103,"v":0.000547,"d":"d"},{"i":104,"v":0.000413,"d":"d"},{"i":105,"v":-0.000085,"d":"d"},{"i":106,"v":-0.000681,"d":"d"},{"i":107,"v":-0.001079,"d":"d"},{"i":108,"v":-0.00103,"d":"u"},{"i":109,"v":-0.000582,"d":"u"},{"i":110,"v":0.000249,"d":"u"},{"i":111,"v":0.000796,"d":"u"},{"i":112,"v":0.000801,"d":"u"},{"i":113,"v":0.000746,"d":"d"},{"i":114,"v":0.000249,"d":"d"},{"i":115,"v":-0.000184,"d":"d"},{"i":116,"v":-0.000662,"d":"d"},{"i":117,"v":-0.001045,"d":"d"},{"i":118,"v":-0.001179,"d":"d"},{"i":119,"v":-0.00103,"d":"u"},{"i":120,"v":-0.000497,"d":"u"},{"i":121,"v":0.000249,"d":"u"},{"i":122,"v":0.000846,"d":"u"},{"i":123,"v":0.001194,"d":"u"},{"i":124,"v":0.001244,"d":"u"},{"i":125,"v":0.000696,"d":"d"},{"i":126,"v":0.000099,"d":"d"},{"i":127,"v":-0.000796,"d":"d"},{"i":128,"v":-0.001627,"d":"d"},{"i":129,"v":-0.001925,"d":"d"},{"i":130,"v":-0.001691,"d":"u"},{"i":131,"v":-0.001527,"d":"u"},{"i":132,"v":-0.001079,"d":"u"},{"i":133,"v":-0.000796,"d":"u"},{"i":134,"v":-0.00091,"d":"d"},{"i":135,"v":-0.001079,"d":"d"},{"i":136,"v":-0.00103,"d":"u"},{"i":137,"v":-0.0006164,"d":"u"}
],
"gator": [
{"i":0,"v":0.000469,"d":"d"},{"i":1,"v":0.000097,"d":"d"},{"i":2,"v":0.000246,"d":"u"},{"i":3,"v":0.000395,"d":"u"},{"i":4,"v":0.000618,"d":"u"},{"i":5,"v":0.000842,"d":"u"},{"i":6,"v":0.001043,"d":"u"},{"i":7,"v":0.00105,"d":"u"},{"i":8,"v":0.00104,"d":"d"},{"i":9,"v":0.000968,"d":"d"},{"i":10,"v":0.000871,"d":"d"},{"i":11,"v":0.000693,"d":"d"},{"i":12,"v":0.000469,"d":"d"},{"i":13,"v":0.000022,"d":"d"},{"i":14,"v":0.000298,"d":"u"},{"i":15,"v":0.000618,"d":"u"},{"i":16,"v":0.00067,"d":"u"},{"i":17,"v":0.000797,"d":"u"},{"i":18,"v":0.000842,"d":"u"},{"i":19,"v":0.000916,"d":"u"},{"i":20,"v":0.000923,"d":"u"},{"i":21,"v":0.000842,"d":"d"},{"i":22,"v":0.000834,"d":"d"},{"i":23,"v":0.000842,"d":"u"},{"i":24,"v":0.000745,"d":"d"},{"i":25,"v":0.000596,"d":"d"},{"i":26,"v":0.000372,"d":"d"},{"i":27,"v":0.000246,"d":"d"},{"i":28,"v":0.000298,"d":"u"},{"i":29,"v":0.000395,"d":"u"},{"i":30,"v":0.000544,"d":"u"},{"i":31,"v":0.000395,"d":"d"},{"i":32,"v":0.000171,"d":"d"},{"i":33,"v":0.000149,"d":"u"},{"i":34,"v":0.000097,"d":"d"},{"i":35,"v":0.000246,"d":"u"},{"i":36,"v":0.000499,"d":"u"},{"i":37,"v":0.000544,"d":"u"},{"i":38,"v":0.000469,"d":"d"},{"i":39,"v":0.000722,"d":"u"},{"i":40,"v":0.000916,"d":"u"},{"i":41,"v":0.001139,"d":"u"},{"i":42,"v":0.001147,"d":"u"},{"i":43,"v":0.000171,"d":"d"},{"i":44,"v":0.000469,"d":"d"},{"i":45,"v":0.000842,"d":"u"},{"i":46,"v":0.000722,"d":"d"},{"i":47,"v":0.000842,"d":"u"},{"i":48,"v":0.001065,"d":"u"},{"i":49,"v":0.001072,"d":"u"},{"i":50,"v":0.000968,"d":"d"},{"i":51,"v":0.000916,"d":"d"},{"i":52,"v":0.000916,"d":"u"},{"i":53,"v":0.000797,"d":"d"},{"i":54,"v":0.00067,"d":"d"},{"i":55,"v":0.000469,"d":"d"},{"i":56,"v":0.000395,"d":"d"},{"i":57,"v":0.000544,"d":"u"},{"i":58,"v":0.000544,"d":"u"},{"i":59,"v":0.000469,"d":"u"},{"i":60,"v":0.000395,"d":"d"},{"i":61,"v":0.000097,"d":"d"},{"i":62,"v":0.000097,"d":"d"},{"i":63,"v":0.000171,"d":"d"},{"i":64,"v":0.000395,"d":"u"},{"i":65,"v":0.000469,"d":"u"},{"i":66,"v":0.000544,"d":"u"},{"i":67,"v":0.000372,"d":"d"},{"i":68,"v":0.000246,"d":"d"},{"i":69,"v":0.000015,"d":"d"},{"i":70,"v":0.000097,"d":"u"},{"i":71,"v":0.000223,"d":"u"},{"i":72,"v":0.000223,"d":"u"},{"i":73,"v":0.000298,"d":"u"},{"i":74,"v":0.000223,"d":"d"},{"i":75,"v":0.000149,"d":"d"},{"i":76,"v":0.000149,"d":"d"},{"i":77,"v":0.000149,"d":"d"},{"i":78,"v":0.000246,"d":"u"},{"i":79,"v":0.000298,"d":"u"},{"i":80,"v":0.000298,"d":"u"},{"i":81,"v":0.000223,"d":"d"},{"i":82,"v":0.000015,"d":"d"},{"i":83,"v":0.000149,"d":"u"},{"i":84,"v":0.000395,"d":"u"},{"i":85,"v":0.000544,"d":"u"},{"i":86,"v":0.000648,"d":"u"},{"i":87,"v":0.000797,"d":"u"},{"i":88,"v":0.00099,"d":"u"},{"i":89,"v":0.001244,"d":"u"},{"i":90,"v":0.001363,"d":"u"},{"i":91,"v":0.001415,"d":"u"},{"i":92,"v":0.001437,"d":"u"},{"i":93,"v":0.001393,"d":"d"},{"i":94,"v":0.001318,"d":"d"},{"i":95,"v":0.001311,"d":"d"},{"i":96,"v":0.001214,"d":"d"},{"i":97,"v":0.001169,"d":"d"},{"i":98,"v":0.00099,"d":"d"},{"i":99,"v":0.000842,"d":"u"},{"i":100,"v":0.000842,"d":"d"},{"i":101,"v":0.000722,"d":"d"},{"i":102,"v":0.000544,"d":"d"},{"i":103,"v":0.000298,"d":"d"},{"i":104,"v":0.000171,"d":"d"},{"i":105,"v":0.000372,"d":"d"},{"i":106,"v":0.000171,"d":"d"},{"i":107,"v":0.000246,"d":"u"},{"i":108,"v":0.000298,"d":"u"},{"i":109,"v":0.000171,"d":"d"},{"i":110,"v":0.000544,"d":"u"},{"i":111,"v":0.000842,"d":"u"},{"i":112,"v":0.000916,"d":"u"},{"i":113,"v":0.000842,"d":"d"},{"i":114,"v":0.000544,"d":"d"},{"i":115,"v":0.000395,"d":"d"},{"i":116,"v":0.000223,"d":"u"},{"i":117,"v":0.000149,"d":"d"},{"i":118,"v":0.000246,"d":"u"},{"i":119,"v":0.000469,"d":"u"},{"i":120,"v":0.000722,"d":"u"},{"i":121,"v":0.000968,"d":"u"},{"i":122,"v":0.001244,"d":"u"},{"i":123,"v":0.001363,"d":"u"},{"i":124,"v":0.001393,"d":"d"},{"i":125,"v":0.00099,"d":"d"},{"i":126,"v":0.000596,"d":"d"},{"i":127,"v":0.000298,"d":"d"},{"i":128,"v":0.000171,"d":"d"},{"i":129,"v":0.000097,"d":"d"},{"i":130,"v":0.000246,"d":"u"},{"i":131,"v":0.000395,"d":"u"},{"i":132,"v":0.00099,"d":"u"},{"i":133,"v":0.001586,"d":"u"},{"i":134,"v":0.002033,"d":"u"},{"i":135,"v":0.001914,"d":"d"},{"i":136,"v":0.001787,"d":"d"},{"i":137,"v":0.00216,"d":"u"},{"i":138,"v":0.002733,"d":"u"},{"i":139,"v":0.003076,"d":"u"},{"i":140,"v":0.00315,"d":"u"},{"i":141,"v":0.003143,"d":"d"},{"i":142,"v":0.003025,"d":"d"},
{"i":0,"v":-0.001244,"d":"u"},{"i":1,"v":-0.001266,"d":"u"},{"i":2,"v":-0.001393,"d":"u"},{"i":3,"v":-0.001586,"d":"u"},{"i":4,"v":-0.001616,"d":"u"},{"i":5,"v":-0.001437,"d":"d"},{"i":6,"v":-0.001318,"d":"d"},{"i":7,"v":-0.001192,"d":"d"},{"i":8,"v":-0.000946,"d":"d"},{"i":9,"v":-0.000499,"d":"d"},{"i":10,"v":-0.000201,"d":"d"},{"i":11,"v":-0.000127,"d":"d"},{"i":12,"v":-0.000767,"d":"u"},{"i":13,"v":-0.000946,"d":"u"},{"i":14,"v":-0.000953,"d":"u"},{"i":15,"v":-0.000894,"d":"d"},{"i":16,"v":-0.00102,"d":"u"},{"i":17,"v":-0.001028,"d":"u"},{"i":18,"v":-0.000894,"d":"d"},{"i":19,"v":-0.000767,"d":"d"},{"i":20,"v":-0.000745,"d":"d"},{"i":21,"v":-0.000693,"d":"u"},{"i":22,"v":-0.000573,"d":"d"},{"i":23,"v":-0.000246,"d":"d"},{"i":24,"v":-0.000015,"d":"d"},{"i":25,"v":-0.000022,"d":"u"},{"i":26,"v":-0.000022,"d":"u"},{"i":27,"v":-0.000246,"d":"u"},{"i":28,"v":-0.00032,"d":"u"},{"i":29,"v":-0.000127,"d":"d"},{"i":30,"v":-0.000149,"d":"u"},{"i":31,"v":-0.000573,"d":"u"},{"i":32,"v":-0.000223,"d":"d"},{"i":33,"v":-0.000395,"d":"u"},{"i":34,"v":-0.000499,"d":"u"},{"i":35,"v":-0.00032,"d":"d"},{"i":36,"v":-0.00032,"d":"u"},{"i":37,"v":-0.000693,"d":"u"},{"i":38,"v":-0.001065,"d":"u"},{"i":39,"v":-0.00102,"d":"u"},{"i":40,"v":-0.00102,"d":"u"},{"i":41,"v":-0.000499,"d":"d"},{"i":42,"v":-0.001437,"d":"u"},{"i":43,"v":-0.000894,"d":"d"},{"i":44,"v":-0.000894,"d":"d"},{"i":45,"v":-0.001244,"d":"u"},{"i":46,"v":-0.001393,"d":"u"},{"i":47,"v":-0.001139,"d":"d"},{"i":48,"v":-0.000894,"d":"d"},{"i":49,"v":-0.000871,"d":"d"},{"i":50,"v":-0.000819,"d":"u"},{"i":51,"v":-0.000693,"d":"d"},{"i":52,"v":-0.00032,"d":"d"},{"i":53,"v":-0.000074,"d":"u"},{"i":54,"v":-0.000201,"d":"u"},{"i":55,"v":-0.000276,"d":"u"},{"i":56,"v":-0.000149,"d":"d"},{"i":57,"v":-0.000074,"d":"d"},{"i":58,"v":-0.000015,"d":"d"},{"i":59,"v":-0.000246,"d":"u"},{"i":60,"v":-0.000395,"d":"u"},{"i":61,"v":-0.000573,"d":"u"},{"i":62,"v":-0.000745,"d":"u"},{"i":63,"v":-0.000767,"d":"u"},{"i":64,"v":-0.000693,"d":"d"},{"i":65,"v":-0.000499,"d":"d"},{"i":66,"v":-0.000149,"d":"d"},{"i":67,"v":-0.000074,"d":"d"},{"i":68,"v":-0.000149,"d":"u"},{"i":69,"v":-0.000246,"d":"u"},{"i":70,"v":-0.000253,"d":"u"},{"i":71,"v":-0.00032,"d":"d"},{"i":72,"v":-0.000246,"d":"d"},{"i":73,"v":-0.000074,"d":"u"},{"i":74,"v":-0.000127,"d":"d"},{"i":75,"v":-0.000074,"d":"d"},{"i":76,"v":-0.000149,"d":"u"},{"i":77,"v":-0.00032,"d":"u"},{"i":78,"v":-0.000246,"d":"d"},{"i":79,"v":-0.000074,"d":"u"},{"i":80,"v":-0.000127,"d":"d"},{"i":81,"v":-0.000499,"d":"u"},{"i":82,"v":-0.000499,"d":"u"},{"i":83,"v":-0.000573,"d":"u"},{"i":84,"v":-0.000745,"d":"u"},{"i":85,"v":-0.000871,"d":"u"},{"i":86,"v":-0.001139,"d":"u"},{"i":87,"v":-0.001363,"d":"u"},{"i":88,"v":-0.001437,"d":"u"},{"i":89,"v":-0.001445,"d":"u"},{"i":90,"v":-0.001363,"d":"d"},{"i":91,"v":-0.001192,"d":"d"},{"i":92,"v":-0.000946,"d":"d"},{"i":93,"v":-0.000894,"d":"u"},{"i":94,"v":-0.000894,"d":"d"},{"i":95,"v":-0.000745,"d":"d"},{"i":96,"v":-0.000499,"d":"d"},{"i":97,"v":-0.000447,"d":"u"},{"i":98,"v":-0.000395,"d":"u"},{"i":99,"v":-0.00032,"d":"d"},{"i":100,"v":-0.000015,"d":"d"},{"i":101,"v":-0.00032,"d":"u"},{"i":102,"v":-0.000149,"d":"d"},{"i":103,"v":-0.000015,"d":"d"},{"i":104,"v":-0.00032,"d":"u"},{"i":105,"v":-0.000819,"d":"u"},{"i":106,"v":-0.000693,"d":"d"},{"i":107,"v":-0.000149,"d":"d"},{"i":108,"v":-0.000573,"d":"u"},{"i":109,"v":-0.000894,"d":"u"},{"i":110,"v":-0.000693,"d":"d"},{"i":111,"v":-0.000573,"d":"d"},{"i":112,"v":-0.00032,"d":"d"},{"i":113,"v":-0.000015,"d":"d"},{"i":114,"v":-0.000022,"d":"d"},{"i":115,"v":-0.000074,"d":"u"},{"i":116,"v":-0.000074,"d":"d"},{"i":117,"v":-0.000246,"d":"u"},{"i":118,"v":-0.000499,"d":"u"},{"i":119,"v":-0.000894,"d":"u"},{"i":120,"v":-0.001192,"d":"u"},{"i":121,"v":-0.001266,"d":"u"},{"i":122,"v":-0.001139,"d":"d"},{"i":123,"v":-0.000648,"d":"d"},{"i":124,"v":-0.000074,"d":"d"},{"i":125,"v":-0.000074,"d":"d"},{"i":126,"v":-0.000149,"d":"u"},{"i":127,"v":-0.000246,"d":"u"},{"i":128,"v":-0.000015,"d":"d"},{"i":129,"v":-0.000149,"d":"u"},{"i":130,"v":-0.00099,"d":"u"},{"i":131,"v":-0.001988,"d":"u"},{"i":132,"v":-0.001988,"d":"d"},{"i":133,"v":-0.001512,"d":"d"},{"i":134,"v":-0.001512,"d":"d"},{"i":135,"v":-0.002182,"d":"u"},{"i":136,"v":-0.002755,"d":"u"},{"i":137,"v":-0.002927,"d":"u"},{"i":138,"v":-0.002808,"d":"d"},{"i":139,"v":-0.002629,"d":"d"},{"i":140,"v":-0.002484,"d":"d"}
]
},
"vconcat": [
{
 "width": 1226, "height": 470,
 "layer": [
  {"data": {"name": "candles"},
   "mark": {"type": "rule", "color": "#000000", "strokeWidth": 1, "clip": true},
   "encoding": {
    "x": {"field": "i", "type": "quantitative", "scale": {"domain": [-0.15, 153.08], "nice": false, "zero": false},
      "axis": {"orient": "bottom", "tickCount": 80, "values": [4,8,12,16,20,24,28,32,36,40,44,48,52,56,60,64,68,72,76,80,84,88,92,96,100,104,108,112,116,120,124,128,132,136,140,144,148,152], "labels": false, "ticks": false, "grid": true, "title": null}},
    "y": {"field": "l", "type": "quantitative", "scale": {"domain": [1.417913, 1.438398], "nice": false, "zero": false},
      "axis": {"orient": "right", "tickCount": 40, "values": [1.4193,1.4207,1.4221,1.4235,1.4249,1.4263,1.4277,1.4291,1.4305,1.4319,1.4333,1.4347,1.4361,1.4375], "format": ".5f", "tickSize": 4, "labelPadding": 1, "grid": true, "labelFlush": false, "labelOverlap": false, "title": null}},
    "y2": {"field": "h"}
   }},
  {"data": {"name": "candles"},
   "mark": {"type": "bar", "width": 4.4, "stroke": "#000000", "strokeWidth": 1, "clip": true},
   "encoding": {
    "x": {"field": "i", "type": "quantitative"},
    "y": {"field": "o", "type": "quantitative"},
    "y2": {"field": "c"},
    "fill": {"condition": {"test": "datum.c > datum.o", "value": "#ffffff"}, "value": "#000000"}
   }},
  {"data": {"name": "lines"},
   "mark": {"type": "line", "strokeWidth": 2, "interpolate": "monotone", "clip": true},
   "encoding": {
    "x": {"field": "i", "type": "quantitative"},
    "y": {"field": "v", "type": "quantitative"},
    "color": {"field": "s", "type": "nominal", "scale": {"domain": ["jaw", "teeth", "lips"], "range": ["#0a4fd6", "#f01010", "#14e614"]}, "legend": null}
   }},
  {"data": {"name": "fractals"},
   "mark": {"type": "point", "filled": true, "fill": "#b0b0b0", "stroke": "#8a8a8a", "strokeWidth": 0.6, "size": 144, "opacity": 1, "clip": true},
   "encoding": {
    "x": {"field": "i", "type": "quantitative"},
    "y": {"field": "p", "type": "quantitative"},
    "shape": {"field": "k", "type": "nominal", "scale": {"domain": ["up", "down"], "range": ["M0,-0.85L0.95,0.85L0,0.4L-0.95,0.85Z", "M0,0.85L0.95,-0.85L0,-0.4L-0.95,-0.85Z"]}, "legend": null}
   }},
  {"data": {"values": [{"i": 139, "p": 1.41856}]},
   "mark": {"type": "point", "filled": true, "fill": "#ffffff", "stroke": "#ff2a2a", "strokeWidth": 1.3, "size": 289, "opacity": 1, "shape": "M-0.33,-1L0.33,-1L0.33,0L0.8,0L0,1L-0.8,0L-0.33,0Z", "clip": true},
   "encoding": {
    "x": {"field": "i", "type": "quantitative"},
    "y": {"field": "p", "type": "quantitative"}
   }},
  {"data": {"values": [{"p": 1.41912}]},
   "mark": {"type": "rule", "color": "#b00000", "strokeWidth": 1},
   "encoding": {"y": {"field": "p", "type": "quantitative"}}},
  {"data": {"values": [{"p": 1.41912}]},
   "mark": {"type": "point", "filled": true, "fill": "#c00000", "strokeWidth": 0, "size": 1600, "opacity": 1, "shape": "M-1,-0.235L1,-0.235L1,0.235L-1,0.235Z"},
   "encoding": {"x": {"datum": 156.0}, "y": {"field": "p", "type": "quantitative"}}},
  {"data": {"values": [{"p": 1.41912}]},
   "mark": {"type": "text", "color": "#ffffff", "fontSize": 10, "font": "Liberation Sans", "align": "center", "baseline": "middle", "dy": 0.5},
   "encoding": {"x": {"datum": 156.0}, "y": {"field": "p", "type": "quantitative"}, "text": {"field": "p", "type": "quantitative", "format": ".5f"}}}
 ]
},
{
 "width": 1226, "height": 99.5,
 "title": {"text": "AOcust -0.006869", "anchor": "start", "frame": "group", "offset": -13, "dx": 5, "fontSize": 9.5, "fontWeight": "normal", "font": "Liberation Sans", "color": "#000000"},
 "data": {"name": "ao"},
 "mark": {"type": "bar", "width": 4.6},
 "encoding": {
  "x": {"field": "i", "type": "quantitative", "scale": {"domain": [-0.15, 153.08], "nice": false, "zero": false},
    "axis": {"orient": "bottom", "tickCount": 80, "values": [4,8,12,16,20,24,28,32,36,40,44,48,52,56,60,64,68,72,76,80,84,88,92,96,100,104,108,112,116,120,124,128,132,136,140,144,148,152], "labels": false, "ticks": false, "grid": true, "title": null}},
  "y": {"field": "v", "type": "quantitative", "scale": {"domain": [-0.008003, 0.004952], "nice": false, "zero": false},
    "axis": {"orient": "right", "tickCount": 10, "values": [-0.008003, 0, 0.004952], "labelExpr": "datum.value < 0 ? '-' + format(-datum.value, '.6f') : format(datum.value, '.6f')", "tickSize": 4, "labelPadding": 1, "labelFlush": true, "labelOverlap": false, "grid": true, "gridOpacity": {"condition": {"test": "datum.value == 0", "value": 1}, "value": 0}, "title": null}},
  "y2": {"datum": 0},
  "color": {"field": "d", "type": "nominal", "scale": {"domain": ["u", "d"], "range": ["#008000", "#ff0000"]}, "legend": null}
 }
},
{
 "width": 1226, "height": 99.5,
 "title": {"text": "ACcust -0.0006164", "anchor": "start", "frame": "group", "offset": -13, "dx": 5, "fontSize": 9.5, "fontWeight": "normal", "font": "Liberation Sans", "color": "#000000"},
 "data": {"name": "ac"},
 "mark": {"type": "bar", "width": 4.6},
 "encoding": {
  "x": {"field": "i", "type": "quantitative", "scale": {"domain": [-0.15, 153.08], "nice": false, "zero": false},
    "axis": {"orient": "bottom", "tickCount": 80, "values": [4,8,12,16,20,24,28,32,36,40,44,48,52,56,60,64,68,72,76,80,84,88,92,96,100,104,108,112,116,120,124,128,132,136,140,144,148,152], "labels": false, "ticks": false, "grid": true, "title": null}},
  "y": {"field": "v", "type": "quantitative", "scale": {"domain": [-0.0023554, 0.0025689], "nice": false, "zero": false},
    "axis": {"orient": "right", "tickCount": 10, "values": [-0.0023554, 0, 0.0025689], "labelExpr": "datum.value < 0 ? '-' + format(-datum.value, '.7f') : format(datum.value, '.7f')", "labelFontSize": 9.3, "tickSize": 4, "labelPadding": 1, "labelFlush": true, "labelOverlap": false, "grid": true, "gridOpacity": {"condition": {"test": "datum.value == 0", "value": 1}, "value": 0}, "title": null}},
  "y2": {"datum": 0},
  "color": {"field": "d", "type": "nominal", "scale": {"domain": ["u", "d"], "range": ["#008000", "#ff0000"]}, "legend": null}
 }
},
{
 "width": 1226, "height": 99.5,
 "title": {"text": "GatorCust 0.003025 -0.002484", "anchor": "start", "frame": "group", "offset": -13, "dx": 5, "fontSize": 9.5, "fontWeight": "normal", "font": "Liberation Sans", "color": "#000000"},
 "data": {"name": "gator"},
 "mark": {"type": "bar", "width": 4.5},
 "encoding": {
  "x": {"field": "i", "type": "quantitative", "scale": {"domain": [-0.15, 153.08], "nice": false, "zero": false},
    "axis": {"orient": "bottom", "tickCount": 80, "values": [0,4,8,12,16,20,24,28,32,36,40,44,48,52,56,60,64,68,72,76,80,84,88,92,96,100,104,108,112,116,120,124,128,132,136,140,144,148,152],
      "grid": true, "gridOpacity": {"condition": {"test": "datum.value == 0", "value": 0}, "value": 1},
      "ticks": true, "tickSize": 4, "tickOpacity": {"condition": {"test": "datum.value % 8 == 0 && datum.value <= 136", "value": 1}, "value": 0},
      "labelExpr": "datum.value % 8 == 0 && datum.value <= 136 ? ['6 Feb 2025','6 Feb 18:00','7 Feb 02:00','7 Feb 10:00','7 Feb 18:00','10 Feb 02:00','10 Feb 10:00','10 Feb 18:00','11 Feb 02:00','11 Feb 10:00','11 Feb 18:00','12 Feb 02:00','12 Feb 10:00','12 Feb 18:00','13 Feb 02:00','13 Feb 10:00','13 Feb 18:00','14 Feb 02:00'][datum.value / 8] : ''",
      "labelFontSize": 9.5, "labelAlign": "left", "labelPadding": 1, "labelFlush": false, "labelOverlap": false, "labelBound": false, "title": null}},
  "y": {"field": "v", "type": "quantitative", "scale": {"domain": [-0.003598, 0.003774], "nice": false, "zero": false},
    "axis": {"orient": "right", "tickCount": 10, "values": [-0.003598, 0, 0.003774], "labelExpr": "datum.value < 0 ? '-' + format(-datum.value, '.6f') : format(datum.value, '.6f')", "tickSize": 4, "labelPadding": 1, "labelFlush": true, "labelOverlap": false, "grid": true, "gridOpacity": {"condition": {"test": "datum.value == 0", "value": 1}, "value": 0}, "title": null}},
  "y2": {"datum": 0},
  "color": {"field": "d", "type": "nominal", "scale": {"domain": ["u", "d"], "range": ["#008000", "#ff0000"]}, "legend": null}
 }
}
]
}
